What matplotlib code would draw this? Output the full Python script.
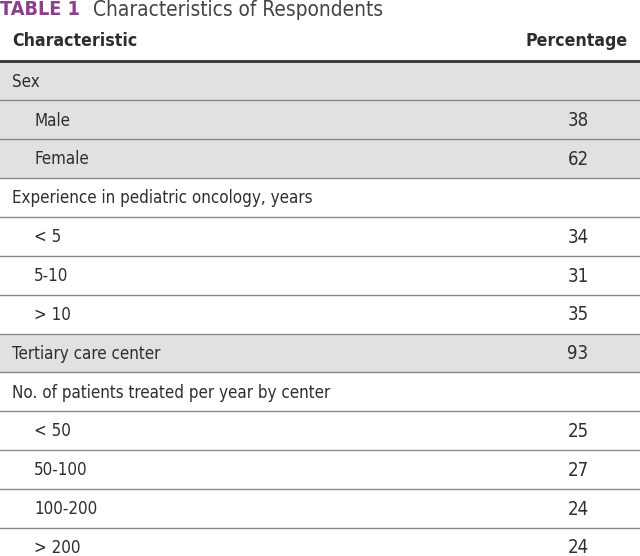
import matplotlib
matplotlib.use("Agg")
import matplotlib.pyplot as plt
from matplotlib import font_manager

labels = ["Sex", "Male", "Female", "Experience in pediatric oncology, years",
          "< 5", "5-10", "> 10", "Tertiary care center",
          "No. of patients treated per year by center",
          "< 50", "50-100", "100-200", "> 200"]
values = ["", "38", "62", "", "34", "31", "35", "93", "", "25", "27", "24", "24"]
indent = [0, 1, 1, 0, 1, 1, 1, 0, 0, 1, 1, 1, 1]
shaded = [1, 1, 1, 0, 0, 0, 0, 1, 0, 0, 0, 0, 0]

names = {f.name for f in font_manager.fontManager.ttflist}
if "Liberation Sans Narrow" in names:
    FONT = dict(family="Liberation Sans Narrow")
    k = 1.0
else:
    FONT = dict(family="DejaVu Sans", stretch="condensed")
    k = 0.89
FS = 13.7 * k
TXT = "#2e2e2e"
SHADE = "#e2e1e1"
LINE = "#8a8a8a"

fig = plt.figure(figsize=(6.4, 5.56), dpi=100)
ax = fig.add_axes([0, 0, 1, 1])
ax.set_xlim(0, 640)
# y in row units: row i centred at i
ax.set_ylim(12.226, -2.085)
ax.axis("off")

for i, (lab, val, ind, sh) in enumerate(zip(labels, values, indent, shaded)):
    if sh:
        ax.axhspan(i - 0.5, i + 0.5, color=SHADE, lw=0, zorder=0)
    ax.text(34 if ind else 12, i + 0.02, lab, fontsize=FS, color=TXT,
            va="center", ha="left", **FONT)
    if val:
        ax.text(578, i + 0.02, val, fontsize=15 * k, color=TXT,
                va="center", ha="center", **FONT)
    if i > 0:
        ax.axhline(i - 0.5, color=LINE, lw=1.0, zorder=1)

ax.axhline(-0.52, color="#333333", lw=2.0, zorder=2)

ax.text(12, -1.03, "Characteristic", fontsize=14.3 * k, weight="bold",
        color=TXT, va="center", ha="left", **FONT)
ax.text(628, -1.03, "Percentage", fontsize=14.3 * k, weight="bold",
        color=TXT, va="center", ha="right", **FONT)

ax.text(0, -1.83, "TABLE 1", fontsize=16 * k, weight="bold",
        color="#8c3f8f", va="center", ha="left", **FONT)
ax.text(93, -1.83, "Characteristics of Respondents", fontsize=16.8 * k,
        color="#444444", va="center", ha="left", **FONT)

fig.savefig("out.png", dpi=100)
